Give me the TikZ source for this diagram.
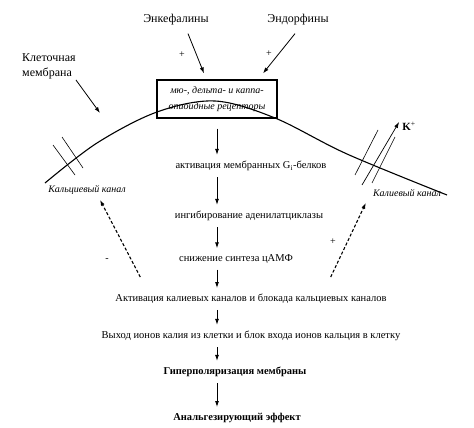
\documentclass[tikz,border=0pt]{standalone}
\usepackage{fontspec}
\setmainfont{Liberation Serif}
\usetikzlibrary{positioning,calc,arrows.meta}

\begin{document}
\begin{tikzpicture}[
    x=1pt, y=-1pt,
    step text/.style={inner xsep=0pt, inner ysep=6pt, font=\fontsize{10.5}{12}\selectfont},
    bold text/.style={step text, font=\fontsize{10.5}{12}\selectfont\bfseries},
    top text/.style={inner sep=0pt, font=\fontsize{12}{15}\selectfont},
    chan text/.style={inner sep=0pt, font=\fontsize{10}{12}\selectfont\itshape},
    sign/.style={inner sep=0pt, font=\fontsize{10}{12}\selectfont},
    box/.style={draw, line width=1.2pt, align=center, inner sep=0pt, minimum height=38pt, minimum width=120pt, font=\fontsize{10}{16.5}\selectfont\itshape},
    arrow/.style={-{Latex[length=6pt,width=4pt]}, line width=0.9pt},
    thin arrow/.style={-{Latex[length=6pt,width=4pt]}, line width=0.8pt},
    dash arrow/.style={-{Latex[length=6pt,width=4pt]}, line width=1.1pt, dash pattern=on 3pt off 2pt},
    membrane/.style={line width=1.1pt},
    channel/.style={line width=0.6pt}
  ]
    \useasboundingbox (0,0) rectangle (474,428);

    % ligands and receptor
    \node[top text] (enk) at (176,20) {Энкефалины};
    \node[top text] (endo) at (298,20) {Эндорфины};
    \node[top text, align=left, anchor=west] (mem) at (22,66) {Клеточная\\мембрана};
    \node[box] (rec) at (217,99) {мю-, дельта- и каппа-\\опиоидные рецепторы};
    \node[sign] (p1) at (182,55) {+};
    \node[sign] (p2) at (269,54) {+};

    % membrane
    \draw[membrane] plot[smooth, tension=0.55] coordinates
      {(45,183) (97,143) (157,112) (215,101) (275,118) (347,154) (447,195)};
    \coordinate (memtip) at (100,113);

    % channels
    \node[chan text] (ca) at (87,190) {Кальциевый канал};
    \node[chan text] (ka) at (407,193) {Калиевый канал};
    \draw[channel] (53,145) -- (75,175);
    \draw[channel] (62,137) -- (83,168);
    \draw[channel] (355,175) -- (378,130);
    \draw[channel] (372,183) -- (395,137);
    \node[inner sep=0pt, font=\fontsize{11}{12}\selectfont] (kion) at (409,126) {\textbf{K}\textsuperscript{+}};
    \coordinate (kbase) at (362,185);
    \draw[arrow, line width=0.7pt] (kbase) -- ([xshift=-3pt,yshift=4pt]kion.west);

    % cascade
    \node[step text] (gi) at (251,166) {активация мембранных G\textsubscript{i}-белков};
    \node[step text] (inh) at (249,216) {ингибирование аденилатциклазы};
    \node[step text] (camp) at (236,259) {снижение синтеза цАМФ};
    \node[step text] (act) at (251,299) {Активация калиевых каналов и блокада кальциевых каналов};
    \node[step text] (ions) at (251,336) {Выход ионов калия из клетки и блок входа ионов кальция в клетку};
    \node[bold text] (hyp) at (235,372) {Гиперполяризация мембраны};
    \node[bold text] (anal) at (237,418) {Анальгезирующий эффект};
    \node[sign] (minus) at (107,260) {-};
    \node[sign] (plus) at (333,242) {+};

    \draw[thin arrow] ([xshift=12pt,yshift=-8pt]enk.south) -- ([xshift=-13pt,yshift=6pt]rec.north);
    \draw[thin arrow] ([xshift=-3pt,yshift=-8pt]endo.south) -- ([xshift=46pt,yshift=6pt]rec.north);
    \draw[thin arrow] ([xshift=27pt,yshift=-1pt]mem.south) -- (memtip);

    \draw[arrow] ([yshift=-10pt]rec.south) -- (gi.north -| rec.south);
    \draw[arrow] (gi.south -| rec.south) -- (inh.north -| rec.south);
    \draw[arrow] (inh.south -| rec.south) -- (camp.north -| rec.south);
    \draw[arrow] (camp.south -| rec.south) -- (act.north -| rec.south);
    \draw[arrow] (act.south -| rec.south) -- (ions.north -| rec.south);
    \draw[arrow] (ions.south -| rec.south) -- (hyp.north -| rec.south);
    \draw[arrow] (hyp.south -| rec.south) -- (anal.north -| rec.south);

    \draw[dash arrow] ([xshift=25pt,yshift=11pt]act.north west) -- ([xshift=13pt,yshift=-5pt]ca.south);
    \draw[dash arrow] ([xshift=-56pt,yshift=11pt]act.north east) -- ([xshift=-7pt,yshift=-6pt]ka.south west);
  \end{tikzpicture}
\end{document}
